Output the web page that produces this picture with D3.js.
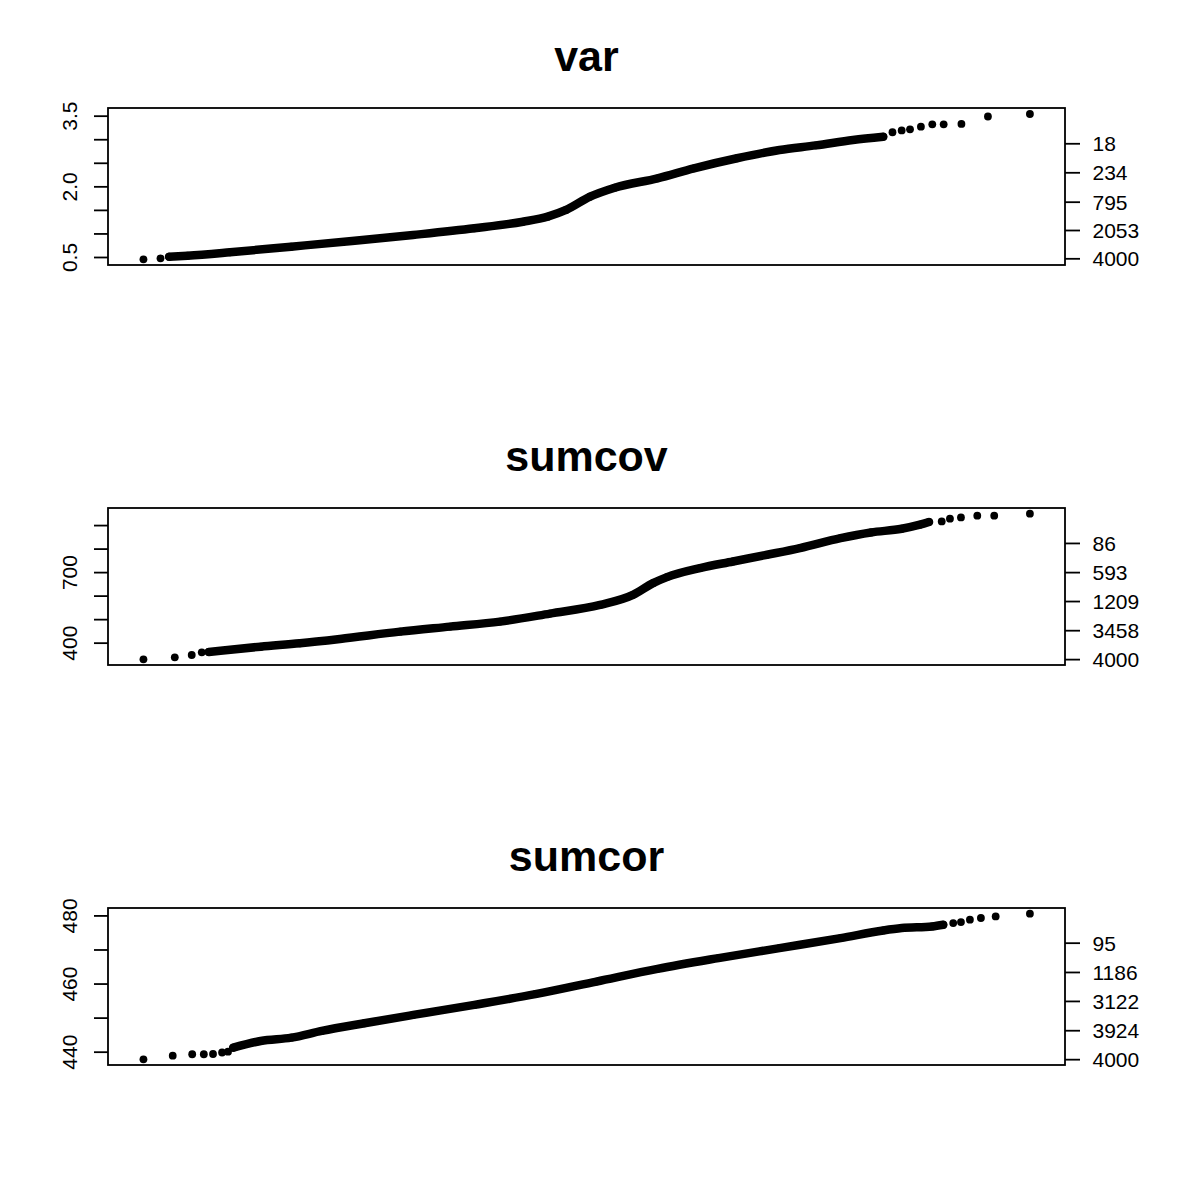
<!DOCTYPE html>
<html>
<head>
<meta charset="utf-8">
<script src="https://cdn.jsdelivr.net/npm/d3@7"></script>
<style>
  body { margin: 0; background: #fff; }
  svg { display: block; font-family: "Liberation Sans", Arial, Helvetica, sans-serif; }
</style>
</head>
<body>
<div id="chart"></div>
<script>
// panel titles
var titles = ["var", "sumcov", "sumcor"];

// points: [theoretical quantile, sorted value]
// sparse tails drawn as single dots, the dense body as a thick run of dots
var varLow = [[-3.662, 0.451], [-3.521, 0.472]];
var varBody = [[-3.450, 0.506], [-3.298, 0.528], [-2.946, 0.600], [-2.442, 0.719], [-1.938, 0.840],
    [-1.434, 0.967], [-0.927, 1.109], [-0.525, 1.249], [-0.321, 1.356], [-0.169, 1.498],
    [0.029, 1.780], [0.233, 1.971], [0.587, 2.171], [0.888, 2.383], [1.244, 2.596],
    [1.595, 2.772], [1.897, 2.870], [2.202, 2.984], [2.453, 3.054]];
var varHigh = [[2.529, 3.148], [2.605, 3.186], [2.674, 3.211], [2.764, 3.266], [2.858, 3.317],
    [2.952, 3.317], [3.099, 3.324], [3.318, 3.483], [3.665, 3.536]];

var covLow = [[-3.662, 329.3], [-3.403, 337.8], [-3.263, 347.6], [-3.180, 359.1]];
var covBody = [[-3.122, 360.4], [-3.045, 364.6], [-2.693, 383.0], [-2.368, 397.4], [-2.037, 415.8],
    [-1.541, 446.9], [-1.128, 468.2], [-0.715, 489.5], [-0.302, 523.6], [0.112, 560.6],
    [0.384, 603.2], [0.550, 653.1], [0.665, 678.7], [0.938, 717.0], [1.211, 745.1],
    [1.492, 773.7], [1.764, 802.2], [2.100, 844.8], [2.351, 868.7], [2.605, 884.4],
    [2.756, 901.5], [2.831, 913.0]];
var covHigh = [[2.936, 915.6], [3.004, 927.1], [3.095, 932.6], [3.230, 939.8], [3.370, 939.8], [3.665, 948.4]];

var corLow = [[-3.662, 437.76], [-3.420, 438.82], [-3.259, 439.24], [-3.163, 439.24], [-3.087, 439.32],
    [-3.012, 439.76], [-2.963, 440.0]];
var corBody = [[-2.920, 441.18], [-2.693, 443.15], [-2.440, 444.12], [-2.188, 446.09], [-1.836, 448.35],
    [-1.432, 450.79], [-0.927, 453.74], [-0.423, 456.88], [0.082, 460.59], [0.587, 464.32],
    [1.091, 467.47], [1.595, 470.41], [2.100, 473.35], [2.453, 475.59], [2.605, 476.29],
    [2.857, 476.76], [2.949, 477.26]];
var corHigh = [[3.031, 477.76], [3.095, 478.06], [3.169, 478.74], [3.260, 479.24], [3.382, 479.71], [3.665, 480.50]];

// left axis ticks and which of them carry a label
var varTicks = [0.5, 1.0, 1.5, 2.0, 2.5, 3.0, 3.5];
var varTickLabels = ["0.5", "", "", "2.0", "", "", "3.5"];
var covTicks = [400, 500, 600, 700, 800, 900];
var covTickLabels = ["400", "", "", "700", "", ""];
var corTicks = [440, 450, 460, 470, 480];
var corTickLabels = ["440", "", "460", "", "480"];

// right axis: positions (in data units) and rank labels
var varRightVals = [0.472, 1.073, 1.674, 2.298, 2.914];
var varRightLabels = ["4000", "2053", "795", "234", "18"];
var covRightVals = [330, 453, 577, 700, 824];
var covRightLabels = ["4000", "3458", "1209", "593", "86"];
var corRightVals = [437.8, 446.3, 454.9, 463.4, 472.0];
var corRightLabels = ["4000", "3924", "3122", "1186", "95"];

// y ranges covered by each box
var varDomain = [0.33, 3.663];
var covDomain = [305.0, 972.6];
var corDomain = [436.09, 482.18];

var panels = [
    {title: titles[0], low: varLow, body: varBody, high: varHigh, ticks: varTicks, tickLabels: varTickLabels,
        rVals: varRightVals, rLabels: varRightLabels, domain: varDomain},
    {title: titles[1], low: covLow, body: covBody, high: covHigh, ticks: covTicks, tickLabels: covTickLabels,
        rVals: covRightVals, rLabels: covRightLabels, domain: covDomain},
    {title: titles[2], low: corLow, body: corBody, high: corHigh, ticks: corTicks, tickLabels: corTickLabels,
        rVals: corRightVals, rLabels: corRightLabels, domain: corDomain}
];

var svg = d3.select("#chart").append("svg")
    .attr("width", 1200)
    .attr("height", 1200);

svg.append("rect").attr("width", 1200).attr("height", 1200).attr("fill", "#fff");

var boxLeft = 108, boxRight = 1065, boxH = 157;

var x = d3.scaleLinear().domain([-3.955, 3.955]).range([boxLeft, boxRight]);

panels.forEach(function(p, i){
    var top = 108 + i * 400;
    var y = d3.scaleLinear().domain(p.domain).range([top + boxH, top]);
    var g = svg.append("g").attr("class", "panel");

    g.append("text")
        .attr("x", (boxLeft + boxRight) / 2)
        .attr("y", top - 37)
        .attr("text-anchor", "middle")
        .style("font-size", "43px")
        .style("font-weight", "bold")
        .text(p.title);

    // left axis
    var yAxis = d3.axisLeft(y)
        .tickValues(p.ticks)
        .tickSize(14)
        .tickFormat(function(d, k){ return p.tickLabels[k]; });

    var ga = g.append("g")
        .attr("class", "axis axis--y")
        .attr("transform", "translate(" + boxLeft + ",0)")
        .call(yAxis);
    ga.select(".domain").remove();
    ga.selectAll("line").attr("stroke", "#000").attr("stroke-width", 1.8);
    ga.selectAll("text")
        .attr("x", 0)
        .attr("dy", 0)
        .attr("transform", "translate(-31,0) rotate(-90)")
        .style("text-anchor", "middle")
        .style("font-size", "21px")
        .attr("fill", "#000");

    // right axis with rank labels
    var rAxis = d3.axisRight(y)
        .tickValues(p.rVals)
        .tickSize(15)
        .tickPadding(12.5)
        .tickFormat(function(d, k){ return p.rLabels[k]; });

    var gr = g.append("g")
        .attr("class", "axis axis--r")
        .attr("transform", "translate(" + boxRight + ",0)")
        .call(rAxis);
    gr.select(".domain").remove();
    gr.selectAll("line").attr("stroke", "#000").attr("stroke-width", 1.8);
    gr.selectAll("text")
        .attr("dy", "0.36em")
        .style("font-size", "21px")
        .attr("fill", "#000");

    // dense part of the sorted values
    var line = d3.line()
        .x(function(d){ return x(d[0]); })
        .y(function(d){ return y(d[1]); })
        .curve(d3.curveMonotoneX);

    g.append("path")
        .datum(p.body)
        .attr("fill", "none")
        .attr("stroke", "#000")
        .attr("stroke-width", 8.5)
        .attr("stroke-linejoin", "round")
        .attr("stroke-linecap", "round")
        .attr("d", line);

    g.selectAll(".dot")
        .data(p.low.concat(p.body).concat(p.high))
        .enter().append("circle")
        .attr("class", "dot")
        .attr("cx", function(d){ return x(d[0]); })
        .attr("cy", function(d){ return y(d[1]); })
        .attr("r", 3.9)
        .attr("fill", "#000");

    // plot frame
    g.append("rect")
        .attr("x", boxLeft)
        .attr("y", top)
        .attr("width", boxRight - boxLeft)
        .attr("height", boxH)
        .attr("fill", "none")
        .attr("stroke", "#000")
        .attr("stroke-width", 1.8);
});
</script>
</body>
</html>
